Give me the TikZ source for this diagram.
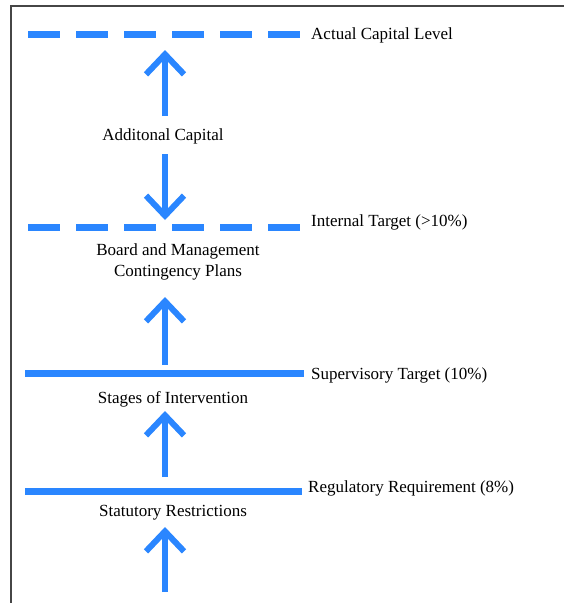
\documentclass[tikz,border=0pt]{standalone}
\usepackage{fontspec}
\setmainfont{Liberation Serif}
\usetikzlibrary{arrows.meta, positioning}
\definecolor{capblue}{RGB}{42,134,255}
\definecolor{framegray}{RGB}{70,70,70}
\tikzset{
    level/.style={draw=capblue, line width=7pt},
    dashlevel/.style={level, dash pattern=on 32pt off 16pt},
    arrow/.style={draw=capblue, line width=6pt, -{Straight Barb[length=20pt, width=38pt]}},
    labelstyle/.style={font=\fontsize{17}{21}\selectfont, inner sep=0pt},
}

\begin{document}
\begin{tikzpicture}[x=1pt, y=-1pt]
            \useasboundingbox (0,0) rectangle (564,603);
            % frame
            \draw[framegray, line width=1.2pt] (564,6) -- (11,6) -- (11,603);
            % capital levels
            \coordinate (actualL) at (28,34);   \coordinate (actualR) at (302,34);
            \coordinate (internalL) at (28,227); \coordinate (internalR) at (302,227);
            \coordinate (superL) at (25,373);   \coordinate (superR) at (304,373);
            \coordinate (regL) at (25,491);     \coordinate (regR) at (302,491);
            \draw[dashlevel] (actualL) -- (actualR);
            \draw[dashlevel] (internalL) -- (internalR);
            \draw[level] (superL) -- (superR);
            \draw[level] (regL) -- (regR);
            \node[labelstyle, anchor=base west] (actual) at (311,39) {Actual Capital Level};
            \node[labelstyle, anchor=base west] (internal) at (311,226) {Internal Target (>10\%)};
            \node[labelstyle, anchor=base west] (super) at (311,379) {Supervisory Target (10\%)};
            \node[labelstyle, anchor=base west] (reg) at (308,492) {Regulatory Requirement (8\%)};
            % zone labels
            \node[labelstyle, anchor=base] (addcap) at (163,140) {Additonal Capital};
            \node[labelstyle, align=center] (board) at (178,262) {Board and Management\\Contingency Plans};
            \node[labelstyle, anchor=base] (stages) at (173,403) {Stages of Intervention};
            \node[labelstyle, anchor=base] (statutory) at (173,516) {Statutory Restrictions};
            % arrows
            \coordinate (a1s) at (165,116); \coordinate (a1e) at (165,50);
            \coordinate (a2s) at (165,154); \coordinate (a2e) at (165,220);
            \coordinate (a3s) at (165,365); \coordinate (a3e) at (165,297);
            \coordinate (a4s) at (165,477); \coordinate (a4e) at (165,411);
            \coordinate (a5s) at (165,592); \coordinate (a5e) at (165,527);
            \draw[arrow] (a1s) -- (a1e);
            \draw[arrow] (a2s) -- (a2e);
            \draw[arrow] (a3s) -- (a3e);
            \draw[arrow] (a4s) -- (a4e);
            \draw[arrow] (a5s) -- (a5e);
        \end{tikzpicture}
\end{document}
